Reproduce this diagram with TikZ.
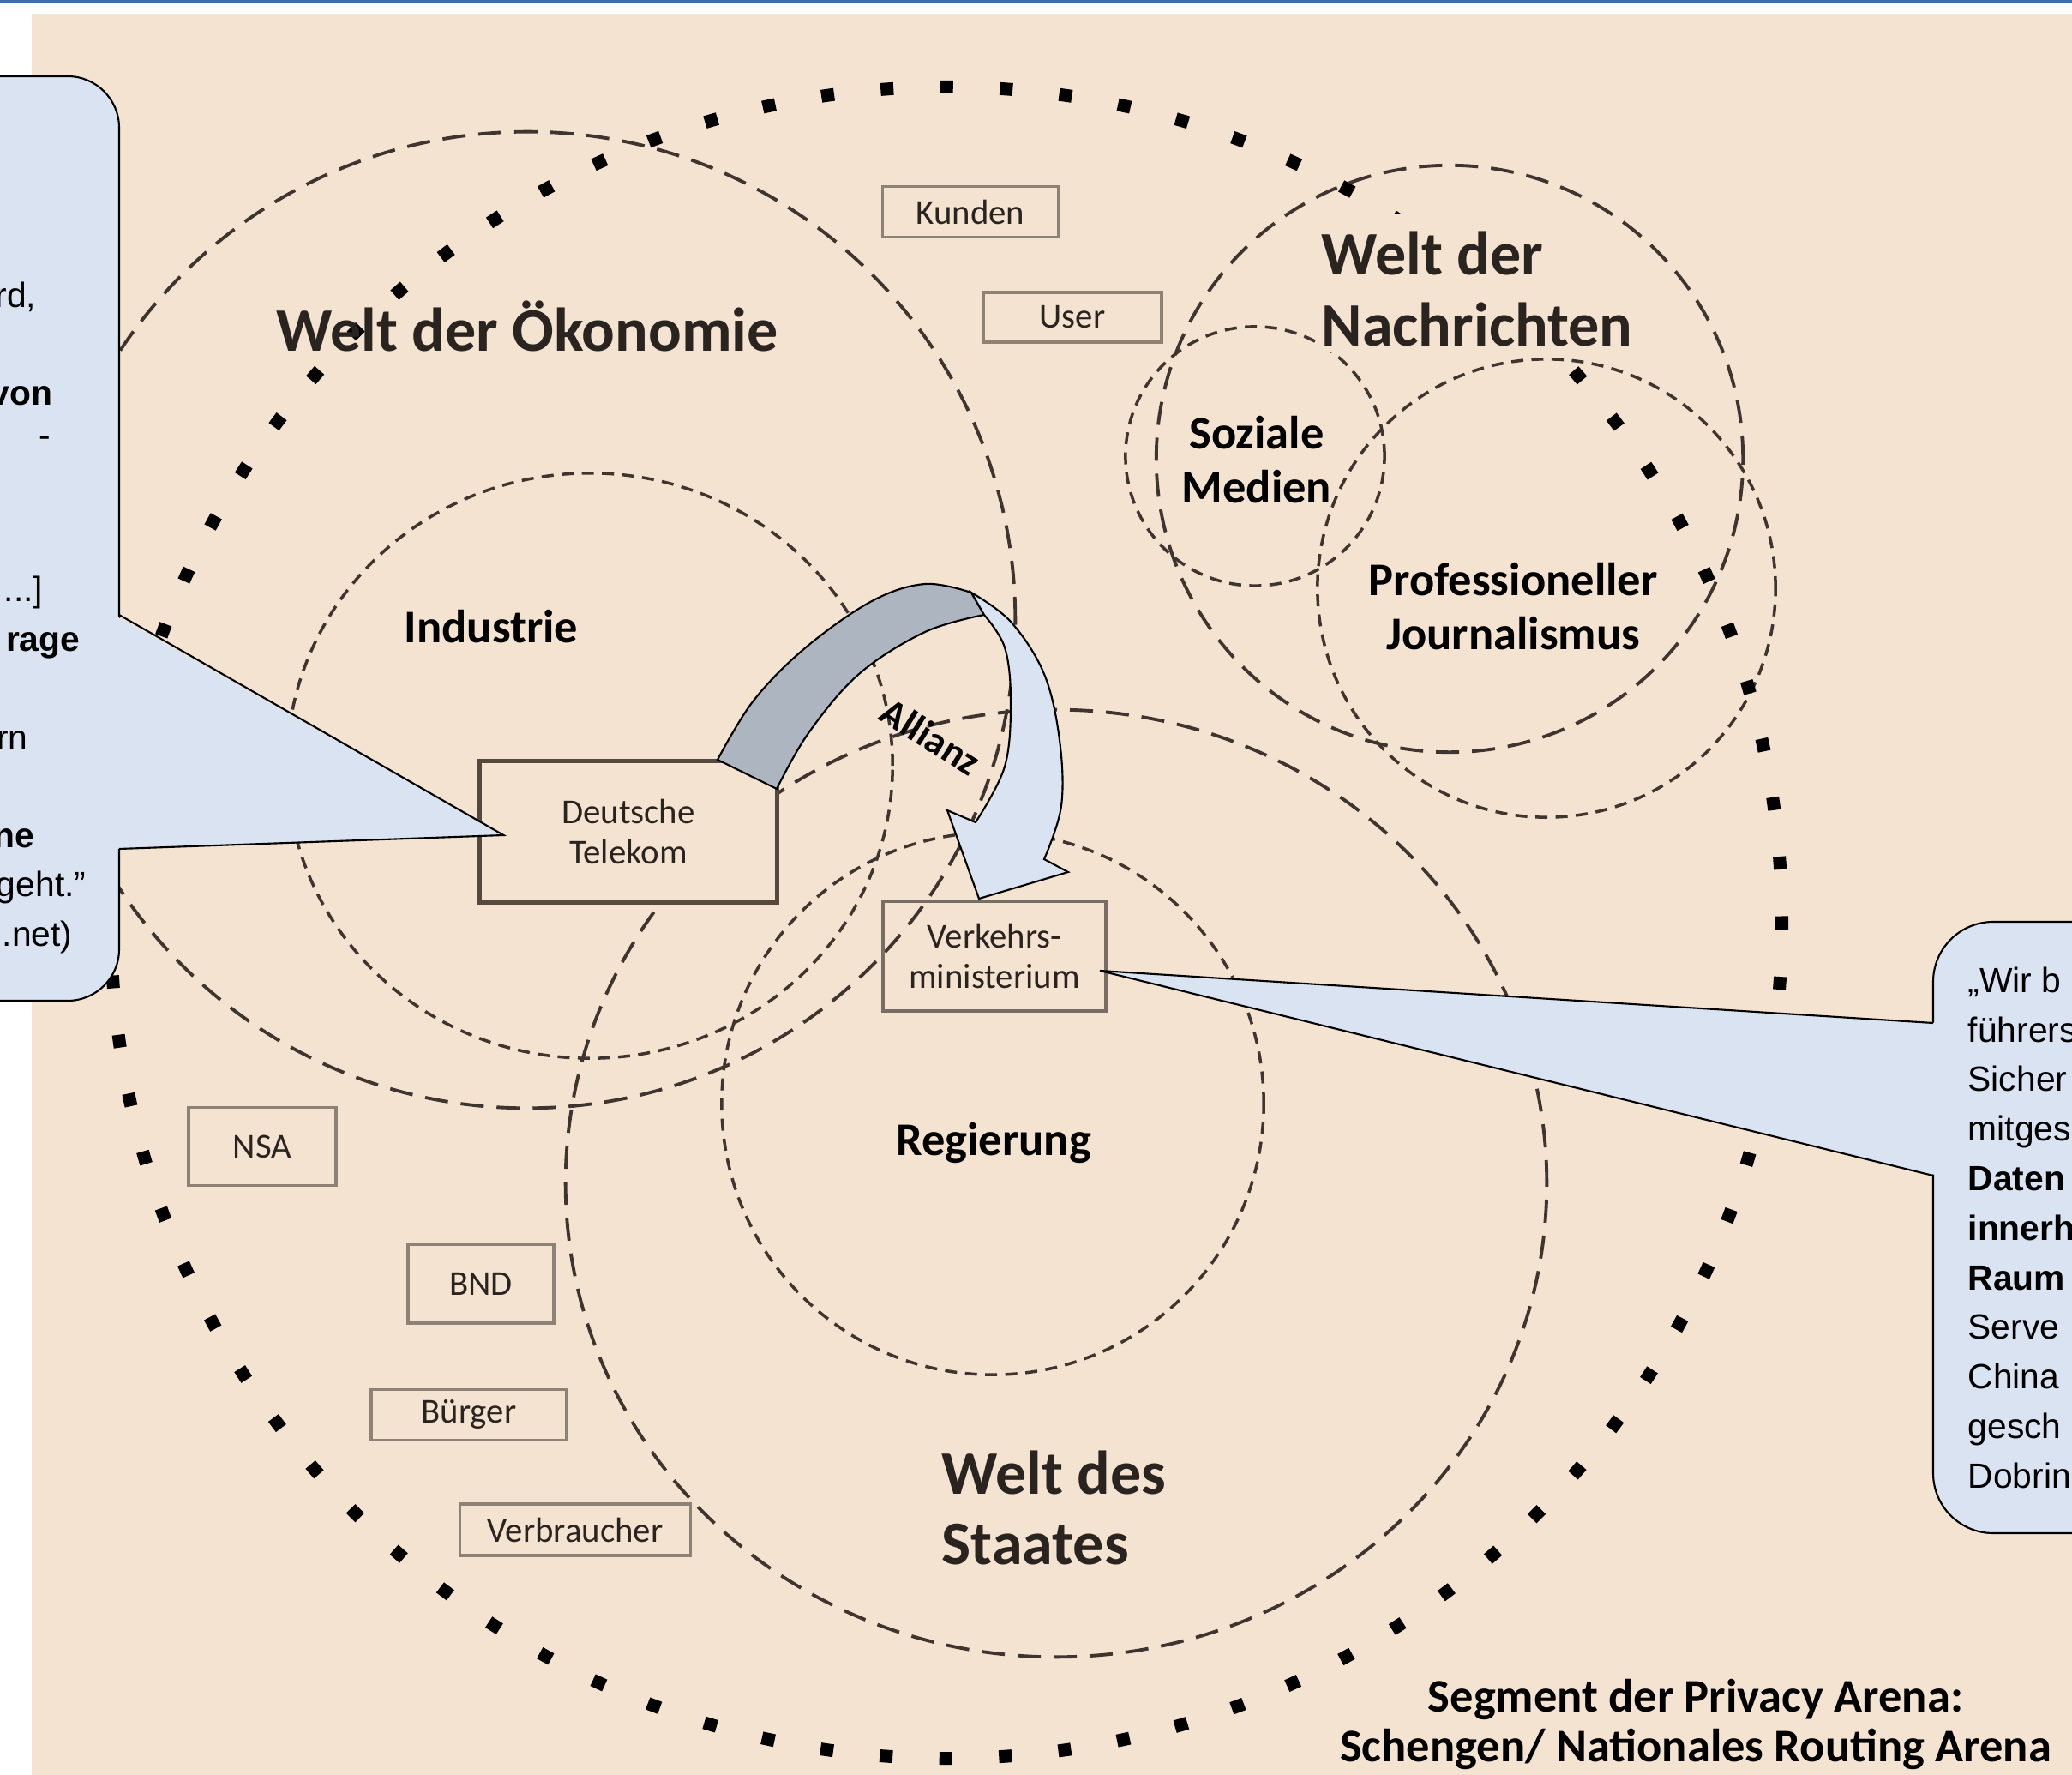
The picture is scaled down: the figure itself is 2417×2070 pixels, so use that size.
\documentclass[tikz,border=0pt]{standalone}
\usepackage{fontspec}
\setmainfont{Carlito}
\newfontfamily\arialf{Liberation Sans}
\usetikzlibrary{calc}
\definecolor{beige}{HTML}{F4E3D0}
\definecolor{topblue}{HTML}{3F6FA8}
\definecolor{calloutfill}{HTML}{DAE3F1}
\definecolor{bandgray}{HTML}{ADB5C1}
\definecolor{linecol}{HTML}{3E3530}
\definecolor{boxcol}{HTML}{8E8176}
\definecolor{dtcol}{HTML}{54483F}
\definecolor{txt}{HTML}{2A2420}
\begin{document}
\begin{tikzpicture}[x=0.01cm, y=-0.01cm,
  longdash/.style={draw=linecol, line width=1.1pt, dash pattern=on 0.27cm off 0.15cm},
  shortdash/.style={draw=linecol, line width=1pt, dash pattern=on 0.14cm off 0.095cm},
  dotring/.style={draw=black, line width=0.15cm, dash pattern=on 0.15cm off 0.54543cm, dash phase=0.075cm},
  plainbox/.style={draw=boxcol, line width=0.9pt, inner sep=0pt, text=txt, font=\fontsize{11.6}{13.6}\selectfont, align=center},
  headtxt/.style={inner sep=0pt, text=txt, font=\bfseries\fontsize{20.5}{24}\selectfont},
  midtxt/.style={inner sep=0pt, text=black, font=\bfseries\fontsize{15.5}{18}\selectfont},
  calloutstyle/.style={fill=calloutfill, draw=black, line width=0.6pt},
  quotetxt/.style={inner sep=0pt, text=black, font=\arialf\fontsize{11.6}{16.3}\selectfont},
  quotebold/.style={inner sep=0pt, text=black, font=\arialf\bfseries\fontsize{11.6}{16.3}\selectfont},
  bandedge/.style={draw=black, line width=0.6pt},
]
\useasboundingbox (0,0) rectangle (2417,2070);
\clip (0,0) rectangle (2417,2070);
\fill[white] (0,0) rectangle (2417,2070);
\fill[beige] (37,16) rectangle (2417,2070);
\draw[topblue, line width=0.03cm] (0,1.5) -- (2417,1.5);

% worlds (dashed circles)
\draw[longdash] (615,723) circle (5.69cm);
\draw[shortdash] (688,893) ellipse [x radius=3.53cm, y radius=3.41cm];
\draw[longdash] (1691,535) circle (3.42cm);
\draw[shortdash] (1464,532) circle (1.51cm);
\draw[shortdash] (1804,686) circle (2.67cm);
\draw[longdash] (1232,1380) ellipse [x radius=5.72cm, y radius=5.52cm];
\draw[shortdash] (1158,1287) circle (3.16cm);

% arena (dotted ring)
\draw[dotring] (1104,1076) circle (9.74cm);

% backing behind the news-world title
\fill[beige] (1537,250) -- (1803,250) -- (1803,342) -- (1922,342) -- (1922,410) -- (1537,410) -- cycle;

% labels
\node[headtxt, anchor=base] (oek) at (615,410) {Welt der Ökonomie};
\node[headtxt, anchor=base west] (nach1) at (1541,321) {Welt der};
\node[headtxt, anchor=base west] (nach2) at (1541,404) {Nachrichten};
\node[headtxt, anchor=base west] (staat1) at (1098,1742) {Welt des};
\node[headtxt, anchor=base west] (staat2) at (1098,1824) {Staates};
\node[midtxt, anchor=base] (industrie) at (573,749) {Industrie};
\node[midtxt, anchor=base] (soz1) at (1466,524) {Soziale};
\node[midtxt, anchor=base] (soz2) at (1466,587) {Medien};
\node[midtxt, anchor=base] (prof1) at (1765,695) {Professioneller};
\node[midtxt, anchor=base] (prof2) at (1765,758) {Journalismus};
\node[midtxt, anchor=base] (regierung) at (1159,1347) {Regierung};
\node[midtxt, anchor=base] (seg1) at (1978,1996) {Segment der Privacy Arena:};
\node[midtxt, anchor=base] (seg2) at (1978,2054) {Schengen/ Nationales Routing Arena};

% actor boxes
\node[plainbox, minimum width=2.05cm, minimum height=0.59cm] (kunden) at (1132,247) {Kunden};
\node[plainbox, minimum width=2.08cm, minimum height=0.58cm] (user) at (1251,370) {User};
\node[plainbox, draw=dtcol, line width=1.4pt, fill=beige, minimum width=3.46cm, minimum height=1.65cm] (dt) at (733,970) {Deutsche\\Telekom};
\node[plainbox, draw=dtcol!80, line width=1.1pt, minimum width=2.60cm, minimum height=1.28cm] (vm) at (1160,1115) {Verkehrs-\\ministerium};
\node[plainbox, minimum width=1.72cm, minimum height=0.91cm] (nsa) at (306,1337) {NSA};
\node[plainbox, minimum width=1.70cm, minimum height=0.92cm] (bnd) at (561,1497) {BND};
\node[plainbox, minimum width=2.28cm, minimum height=0.59cm] (buerger) at (547,1650) {Bürger};
\node[plainbox, minimum width=2.69cm, minimum height=0.60cm] (verbraucher) at (671,1784) {Verbraucher};

% Allianz arrow (twisted band)
\fill[bandgray] plot[smooth, tension=0.6] coordinates {(837,886) (879,817) (940,755) (1017,701) (1079,681) (1133,691)}
  -- (1148,717) -- plot[smooth, tension=0.6] coordinates {(1148,717) (1079,737) (1002,786) (943,855) (906,920)} -- cycle;
\draw[bandedge] plot[smooth, tension=0.6] coordinates {(837,886) (879,817) (940,755) (1017,701) (1079,681) (1133,691)}
  -- (1148,717) -- plot[smooth, tension=0.6] coordinates {(1148,717) (1079,737) (1002,786) (943,855) (906,920)} -- cycle;
\fill[calloutfill] plot[smooth, tension=0.6] coordinates {(1133,691) (1179,725) (1218,786) (1236,863) (1238,940) (1218,1002)}
  -- (1246,1017) -- (1142,1048) -- (1105,945) -- plot[smooth, tension=0.6] coordinates {(1138,959) (1172,894) (1179,817) (1172,755) (1148,717)} -- cycle;
\draw[bandedge] plot[smooth, tension=0.6] coordinates {(1133,691) (1179,725) (1218,786) (1236,863) (1238,940) (1218,1002)}
  -- (1246,1017) -- (1142,1048) -- (1105,945) -- plot[smooth, tension=0.6] coordinates {(1138,959) (1172,894) (1179,817) (1172,755) (1148,717)} -- cycle;
\node[inner sep=0pt, rotate=-32, font=\bfseries\fontsize{13}{15}\selectfont] (allianz) at (1086,859) {Allianz};

% left callout
\coordinate (ltip) at ($(dt.west)+(30,4)$);
\draw[calloutstyle, rounded corners=0.6cm] (-100,89) rectangle (139,1167);
\fill[calloutfill] (133,717) -- (ltip) -- (133,990) -- cycle;
\draw[black, line width=0.6pt, line join=miter] (139,717) -- (ltip) -- (139,990);
\node[quotetxt, anchor=base east] (l1) at (43,359) {rd,};
\node[quotebold, anchor=base east] (l2) at (62,473) {von};
\node[quotetxt, anchor=base east] (l3) at (60,522) {-};
\node[quotetxt, anchor=base east] (l4) at (51,702) {...]};
\node[quotebold, anchor=base east] (l5) at (94,759) {rage};
\node[quotetxt, anchor=base east] (l6) at (33,874) {rn};
\node[quotebold, anchor=base east] (l7) at (41,988) {ne};
\node[quotetxt, anchor=base east] (l8) at (101,1045) {geht.”};
\node[quotetxt, anchor=base east] (l9) at (85,1103) {.net)};

% right callout
\coordinate (rtip) at ($(vm.east)+(-9,17)$);
\draw[calloutstyle, rounded corners=0.7cm] (2255,1075) rectangle (2600,1788);
\fill[calloutfill] (2261,1193) -- (rtip) -- (2261,1371) -- cycle;
\draw[black, line width=0.6pt, line join=miter] (2255,1193) -- (rtip) -- (2255,1371);
\node[quotetxt, anchor=base west] (r1) at (2295,1157) {„Wir b};
\node[quotetxt, anchor=base west] (r2) at (2295,1215) {führers};
\node[quotetxt, anchor=base west] (r3) at (2295,1272) {Sicher};
\node[quotetxt, anchor=base west] (r4) at (2295,1330) {mitges};
\node[quotebold, anchor=base west] (r5) at (2295,1388) {Daten};
\node[quotebold, anchor=base west] (r6) at (2295,1446) {innerh};
\node[quotebold, anchor=base west] (r7) at (2295,1504) {Raum};
\node[quotetxt, anchor=base west] (r8) at (2295,1561) {Serve};
\node[quotetxt, anchor=base west] (r9) at (2295,1619) {China};
\node[quotetxt, anchor=base west] (r10) at (2295,1677) {gesch};
\node[quotetxt, anchor=base west] (r11) at (2295,1735) {Dobrin};
\end{tikzpicture}
\end{document}
